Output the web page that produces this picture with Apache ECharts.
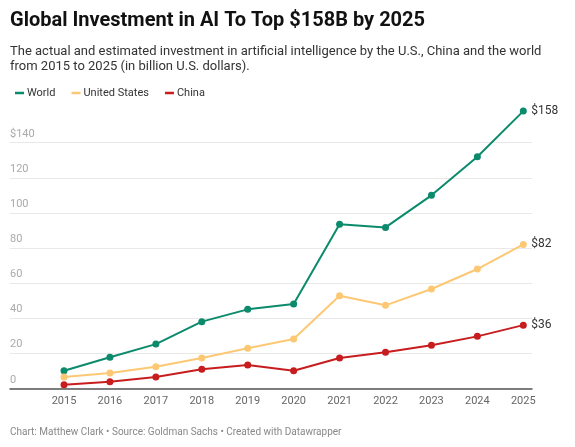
<!DOCTYPE html>
<html>
<head>
<meta charset="utf-8">
<script src="https://cdn.jsdelivr.net/npm/echarts@6/dist/echarts.min.js"></script>
<style>
html,body{margin:0;padding:0;background:#fff;}
#chart{width:575px;height:447px;}
</style>
</head>
<body>
<div id="chart"></div>
<script>
const years = ['2015','2016','2017','2018','2019','2020','2021','2022','2023','2024','2025'];
const world = [10, 17.7, 25.2, 38, 45, 48, 93.5, 91.7, 110, 132, 158];
const unitedStates = [6.4, 8.7, 12.3, 17.3, 22.8, 28.1, 52.8, 47.3, 56.6, 68, 82];
const china = [2, 3.8, 6.4, 10.8, 13.3, 10, 17.3, 20.5, 24.5, 29.6, 36];
const yTicks = [0, 20, 40, 60, 80, 100, 120, 140];

const colors = {World:'#0b8a6c', 'United States':'#fdc874', China:'#c71d1f'};
const FONT = 'Roboto, "Noto Sans", sans-serif';

const chart = echarts.init(document.getElementById('chart'), null, {renderer:'canvas'});

function mk(name, data){
  return {
    name, type:'line', data, xAxisIndex:1, yAxisIndex:1, clip:false,
    symbol:'circle', symbolSize:7, showSymbol:true,
    lineStyle:{width:2, color:colors[name]},
    itemStyle:{color:colors[name]},
    emphasis:{disabled:true},
    endLabel:{show:true, formatter:p=>'$'+p.value, color:'#333', fontSize:12, fontFamily:FONT, distance:8}
  };
}

// pixel frame of the value axis
const y0 = 388.3, yTop = 142.7;
const yMaxTick = yTicks[yTicks.length-1];
const pxPerUnit = (y0 - yTop) / yMaxTick;
const dataMax = 160;
const grid1Top = y0 - dataMax * pxPerUnit;

chart.setOption({
  animation:false,
  textStyle:{fontFamily:FONT},
  title:[
    {text:'Global Investment in AI To Top $158B by 2025', left:10, top:11, padding:0,
     textStyle:{fontSize:20, fontWeight:'bold', color:'#111', fontFamily:FONT}},
    {text:'The actual and estimated investment in artificial intelligence by the U.S., China and the world\nfrom 2015 to 2025 (in billion U.S. dollars).', left:10, top:44, padding:0,
     textStyle:{fontSize:13, fontWeight:'normal', color:'#333', lineHeight:15, fontFamily:FONT}},
    {text:'Chart: Matthew Clark \u2022 Source: Goldman Sachs \u2022 Created with Datawrapper', left:10, top:427, padding:0,
     textStyle:{fontSize:10, fontWeight:'normal', color:'#888', fontFamily:FONT}}
  ],
  legend:{
    left:15, top:87.5, padding:0, itemGap:16, itemWidth:9, itemHeight:2.5,
    icon:'rect',
    textStyle:{fontSize:11, color:'#333', fontFamily:FONT, padding:[0,0,0,-2]},
    data:['World','United States','China']
  },
  grid:[
    {left:10, right:43, top:yTop, bottom:447-y0},
    {left:64, right:51.7, top:grid1Top, bottom:447-y0}
  ],
  xAxis:[
    {gridIndex:0, type:'value', min:0, max:1, axisLabel:{show:false}, axisTick:{show:false}, splitLine:{show:false},
     axisLine:{show:true, lineStyle:{color:'#555', width:1.5}}, z:5},
    {gridIndex:1, type:'category', data:years, boundaryGap:false,
     axisLine:{show:false}, axisTick:{show:false},
     axisLabel:{color:'#666', fontSize:11, margin:7, fontFamily:FONT}}
  ],
  yAxis:[
    {gridIndex:0, type:'value', min:yTicks[0], max:yMaxTick, interval:20,
     axisLine:{show:false}, axisTick:{show:false},
     splitLine:{show:true, lineStyle:{color:'#e8e8e8', width:1}},
     axisLabel:{inside:true, margin:0, verticalAlign:'bottom', padding:[0,0,3,0], color:'#aaa', fontSize:11, fontFamily:FONT,
       formatter:v=> v===yMaxTick ? '$'+v : String(v)}},
    {gridIndex:1, type:'value', min:0, max:dataMax, show:false, splitLine:{show:false}}
  ],
  series:[mk('World', world), mk('United States', unitedStates), mk('China', china)]
});
</script>
</body>
</html>
